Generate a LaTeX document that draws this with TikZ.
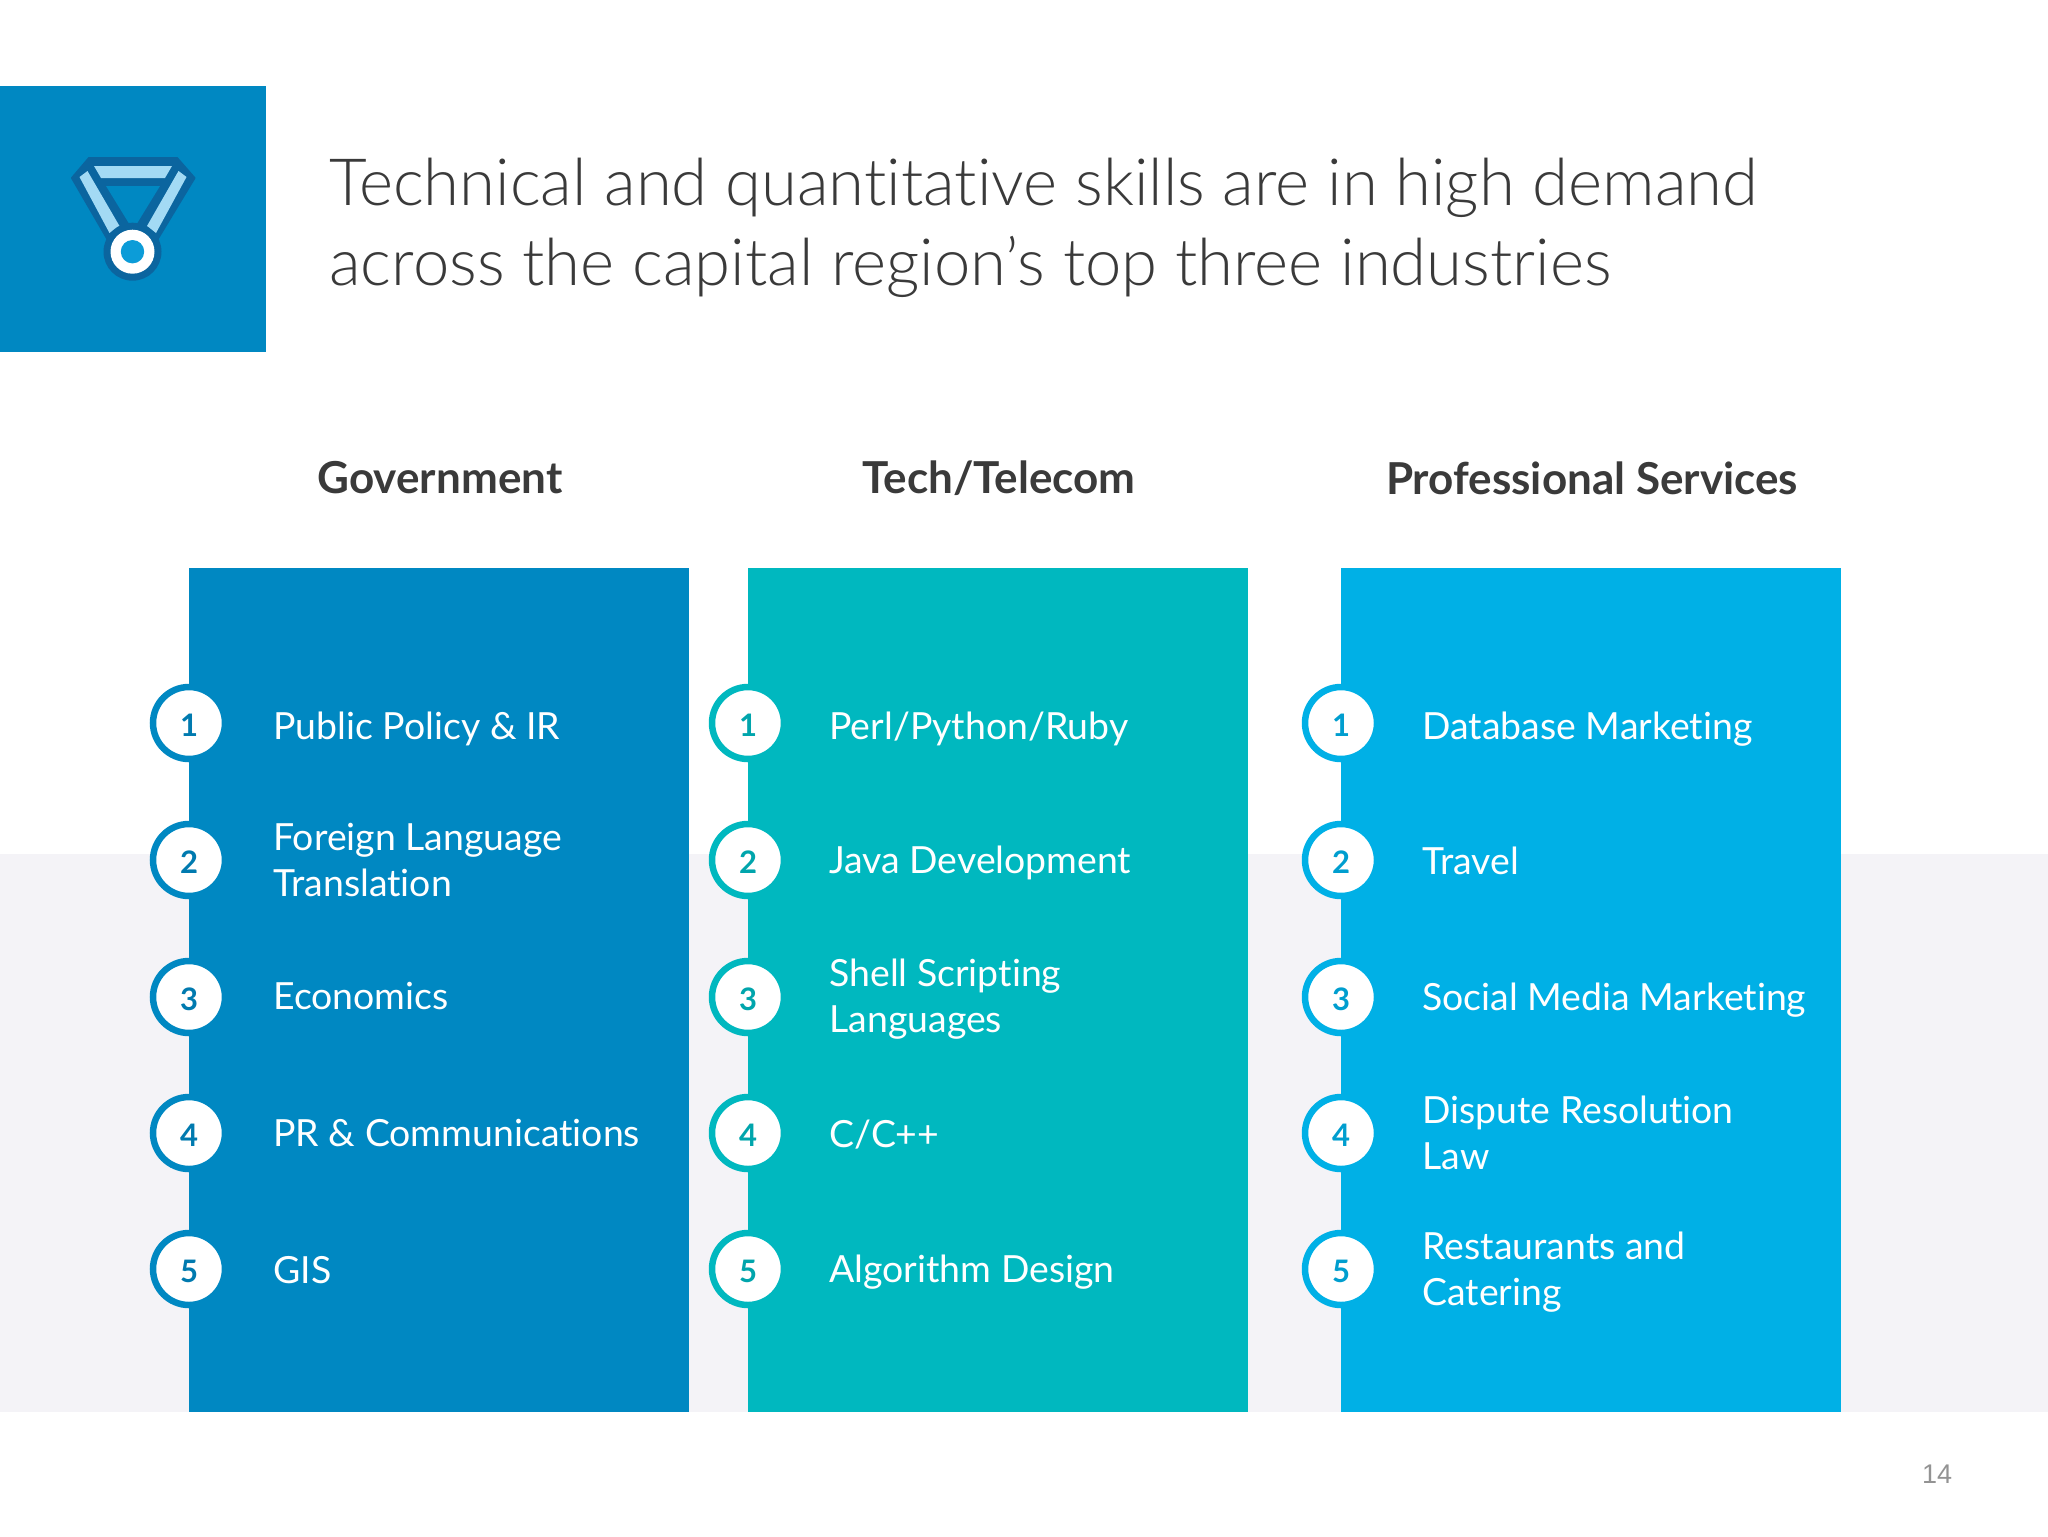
\documentclass[tikz,border=0pt]{standalone}
\usepackage{fontspec}
\setmainfont{Lato}[Ligatures=NoCommon]
\newfontfamily\lightfont{Lato Light}[Ligatures=NoCommon]
\newfontfamily\pagefont{Liberation Sans}
\usetikzlibrary{positioning}
\definecolor{govblue}{HTML}{0088C2}
\definecolor{techteal}{HTML}{00B8BF}
\definecolor{proskyblue}{HTML}{00B0E6}
\definecolor{medaldark}{HTML}{0B659F}
\definecolor{medallight}{HTML}{A3DAF4}
\definecolor{medaldot}{HTML}{0C9CD8}
\definecolor{bandgray}{HTML}{F4F3F7}
\definecolor{inkgray}{HTML}{3A3A3A}
\definecolor{pagegray}{HTML}{939393}
\begin{document}
\begin{tikzpicture}[
x=0.5pt,y=-0.5pt,
panel/.style={
  minimum width=250pt,
  minimum height=422pt,
  inner sep=0pt,
  anchor=north west
},
head/.style={
  font=\fontsize{22}{24}\selectfont\bfseries,
  text=inkgray
},
skill/.style={
  anchor=west,
  align=left,
  text=white,
  inner sep=0pt,
  font=\fontsize{18.7}{22.9}\selectfont
},
badge/.style={
  circle,
  draw=#1,
  fill=white,
  line width=3.25pt,
  minimum size=36pt,
  inner sep=0pt,
  text=#1!90!black,
  text height=13pt,
  text depth=0pt,
  font=\fontsize{15.5}{18}\selectfont\bfseries
}
]
\useasboundingbox (0,0) rectangle (2048,1536);

% band behind the panels
\fill[bandgray] (0,854) rectangle (2048,1412);

% header square and medal
\node[fill=govblue,minimum size=133pt,inner sep=0pt,anchor=north west] (square) at (0,86) {};
\filldraw[medaldark,line width=1pt,line join=round] (89,158) -- (177,158) -- (194.5,178) -- (157,240) -- (108,240) -- (72,178) -- cycle;
\fill[govblue] (106,186) -- (160,186) -- (133,230) -- cycle;
\fill[medallight] (94,166) -- (172,166) -- (165,178) -- (101,178) -- cycle;
\fill[medallight] (79.5,177) -- (87.5,171) -- (119.5,226) -- (109.5,233) -- cycle;
\fill[medallight] (186.5,177) -- (178.5,171) -- (147,226) -- (156,233) -- cycle;
\node[circle,fill=medaldark,minimum size=29pt,inner sep=0pt] (medal) at (132.5,251.7) {};
\node[circle,fill=white,minimum size=22pt,inner sep=0pt] (medalface) at (132.5,251.7) {};
\node[circle,fill=medaldot,minimum size=11.7pt,inner sep=0pt] (medaldot) at (132.5,251.7) {};

% title
\node[anchor=west,inner sep=0pt,align=left,text=inkgray,font=\fontsize{32.6}{40}\lightfont] (title) at (329,228) {Technical and quantitative skills are in high demand\\across the capital region’s top three industries};

% columns
\node[panel,fill=govblue] (gov) at (189,568) {};
\node[panel,fill=techteal] (tech) at (748,568) {};
\node[panel,fill=proskyblue] (pro) at (1341,568) {};

\node[head] (govhead) at (440,478) {Government};
\node[head] (techhead) at (999,478) {Tech/Telecom};
\node[head] (prohead) at (1592,478) {Professional Services};

% government
\node[badge=govblue] (g1) at (189,723) {1};
\node[skill] (gs1) at (273,729) {Public Policy \& IR};
\node[badge=govblue] (g2) at (189,860) {2};
\node[skill] (gs2) at (273,860) {Foreign Language\\Translation};
\node[badge=govblue] (g3) at (189,997) {3};
\node[skill] (gs3) at (273,996) {Economics};
\node[badge=govblue] (g4) at (189,1133) {4};
\node[skill] (gs4) at (273,1133) {PR \& Communications};
\node[badge=govblue] (g5) at (189,1269) {5};
\node[skill] (gs5) at (273,1270) {GIS};

% tech
\node[badge=techteal] (t1) at (748,723) {1};
\node[skill] (ts1) at (829,729) {Perl/Python/Ruby};
\node[badge=techteal] (t2) at (748,860) {2};
\node[skill] (ts2) at (829,863) {Java Development};
\node[badge=techteal] (t3) at (748,997) {3};
\node[skill] (ts3) at (829,999) {Shell Scripting\\Languages};
\node[badge=techteal] (t4) at (748,1133) {4};
\node[skill] (ts4) at (829,1135) {C/C++};
\node[badge=techteal] (t5) at (748,1269) {5};
\node[skill] (ts5) at (829,1272) {Algorithm Design};

% professional services
\node[badge=proskyblue] (p1) at (1341,723) {1};
\node[skill] (ps1) at (1422,729) {Database Marketing};
\node[badge=proskyblue] (p2) at (1341,860) {2};
\node[skill] (ps2) at (1422,861) {Travel};
\node[badge=proskyblue] (p3) at (1341,997) {3};
\node[skill] (ps3) at (1422,1000) {Social Media Marketing};
\node[badge=proskyblue] (p4) at (1341,1133) {4};
\node[skill] (ps4) at (1422,1133) {Dispute Resolution\\Law};
\node[badge=proskyblue] (p5) at (1341,1269) {5};
\node[skill] (ps5) at (1422,1272) {Restaurants and\\Catering};

\node[text=pagegray,font=\fontsize{13.5}{15}\pagefont] (pagenum) at (1937,1474) {14};
\end{tikzpicture}
\end{document}
